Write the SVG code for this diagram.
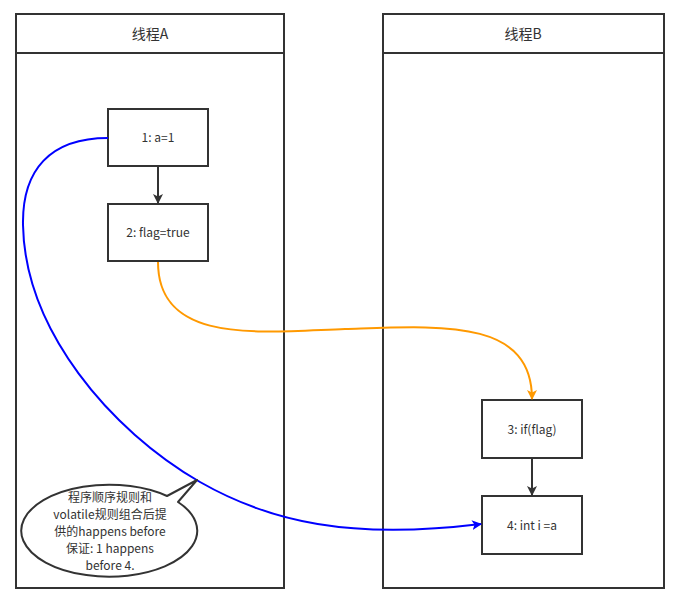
<svg xmlns="http://www.w3.org/2000/svg" width="681" height="606" viewBox="0 0 681 606">
<style>
.ln{fill:#fff;stroke:#333;stroke-width:2}
.t{font-family:"Noto Sans CJK SC","Liberation Sans",sans-serif;fill:#333;text-anchor:middle}
.tt{font-size:14px}
.bt{font-size:12px}
.ct{font-size:12px}
.e{fill:none;stroke-width:2}
</style>
<defs>
<marker id="ad" markerWidth="10" markerHeight="10" refX="9" refY="5" orient="auto" markerUnits="userSpaceOnUse"><path d="M0,0 L10,5 L0,10 L2.5,5 Z" fill="#333"/></marker>
<marker id="ao" markerWidth="10" markerHeight="10" refX="9" refY="5" orient="auto" markerUnits="userSpaceOnUse"><path d="M0,0 L10,5 L0,10 L2.5,5 Z" fill="#FF9900"/></marker>
<marker id="ab" markerWidth="10" markerHeight="10" refX="9" refY="5" orient="auto" markerUnits="userSpaceOnUse"><path d="M0,0 L10,5 L0,10 L2.5,5 Z" fill="#0000FF"/></marker>
</defs>
<rect width="681" height="606" fill="#fff"/>
<g id="laneA">
<rect class="ln" x="16" y="14" width="268" height="574"/>
<line x1="16" y1="53" x2="284" y2="53" stroke="#333" stroke-width="2"/>
<text class="t tt" x="150" y="39">线程A</text>
</g>
<g id="laneB">
<rect class="ln" x="383" y="14" width="281" height="574"/>
<line x1="383" y1="53" x2="664" y2="53" stroke="#333" stroke-width="2"/>
<text class="t tt" x="523" y="39">线程B</text>
</g>
<g id="n1"><rect class="ln" x="108" y="109" width="100" height="57"/><text class="t bt" x="158" y="142">1: a=1</text></g>
<g id="n2"><rect class="ln" x="108" y="204" width="100" height="57"/><text class="t bt" x="158" y="237">2: flag=true</text></g>
<g id="n3"><rect class="ln" x="482" y="400" width="100" height="58"/><text class="t bt" x="532" y="434">3: if(flag)</text></g>
<g id="n4"><rect class="ln" x="482" y="496" width="100" height="58"/><text class="t bt" x="532" y="530">4: int i =a</text></g>
<g id="connectors">
<line class="e" x1="158" y1="166" x2="158" y2="203" stroke="#333" marker-end="url(#ad)"/>
<line class="e" x1="532" y1="458" x2="532" y2="495" stroke="#333" marker-end="url(#ad)"/>
<path class="e" d="M158,262 C158,345 260,332 345,329 C440,326 532,318 532,399" stroke="#FF9900" marker-end="url(#ao)"/>
<path class="e" d="M108,138 C50,138 22,170 23,225 C25,330 110,430 200,482 C270,522 350,540 481,524" stroke="#0000FF" marker-end="url(#ab)"/>
</g>
<g id="callout">
<path d="M167,496 A88,46 0 1 0 178,502 L197,480 Z" fill="#fff" stroke="#333" stroke-width="2" stroke-linejoin="round"/>
<text class="t ct" x="110" y="502">程序顺序规则和</text>
<text class="t ct" x="110" y="519">volatile规则组合后提</text>
<text class="t ct" x="110" y="536">供的happens before</text>
<text class="t ct" x="110" y="553">保证: 1 happens</text>
<text class="t ct" x="110" y="570">before 4.</text>
</g>
</svg>
